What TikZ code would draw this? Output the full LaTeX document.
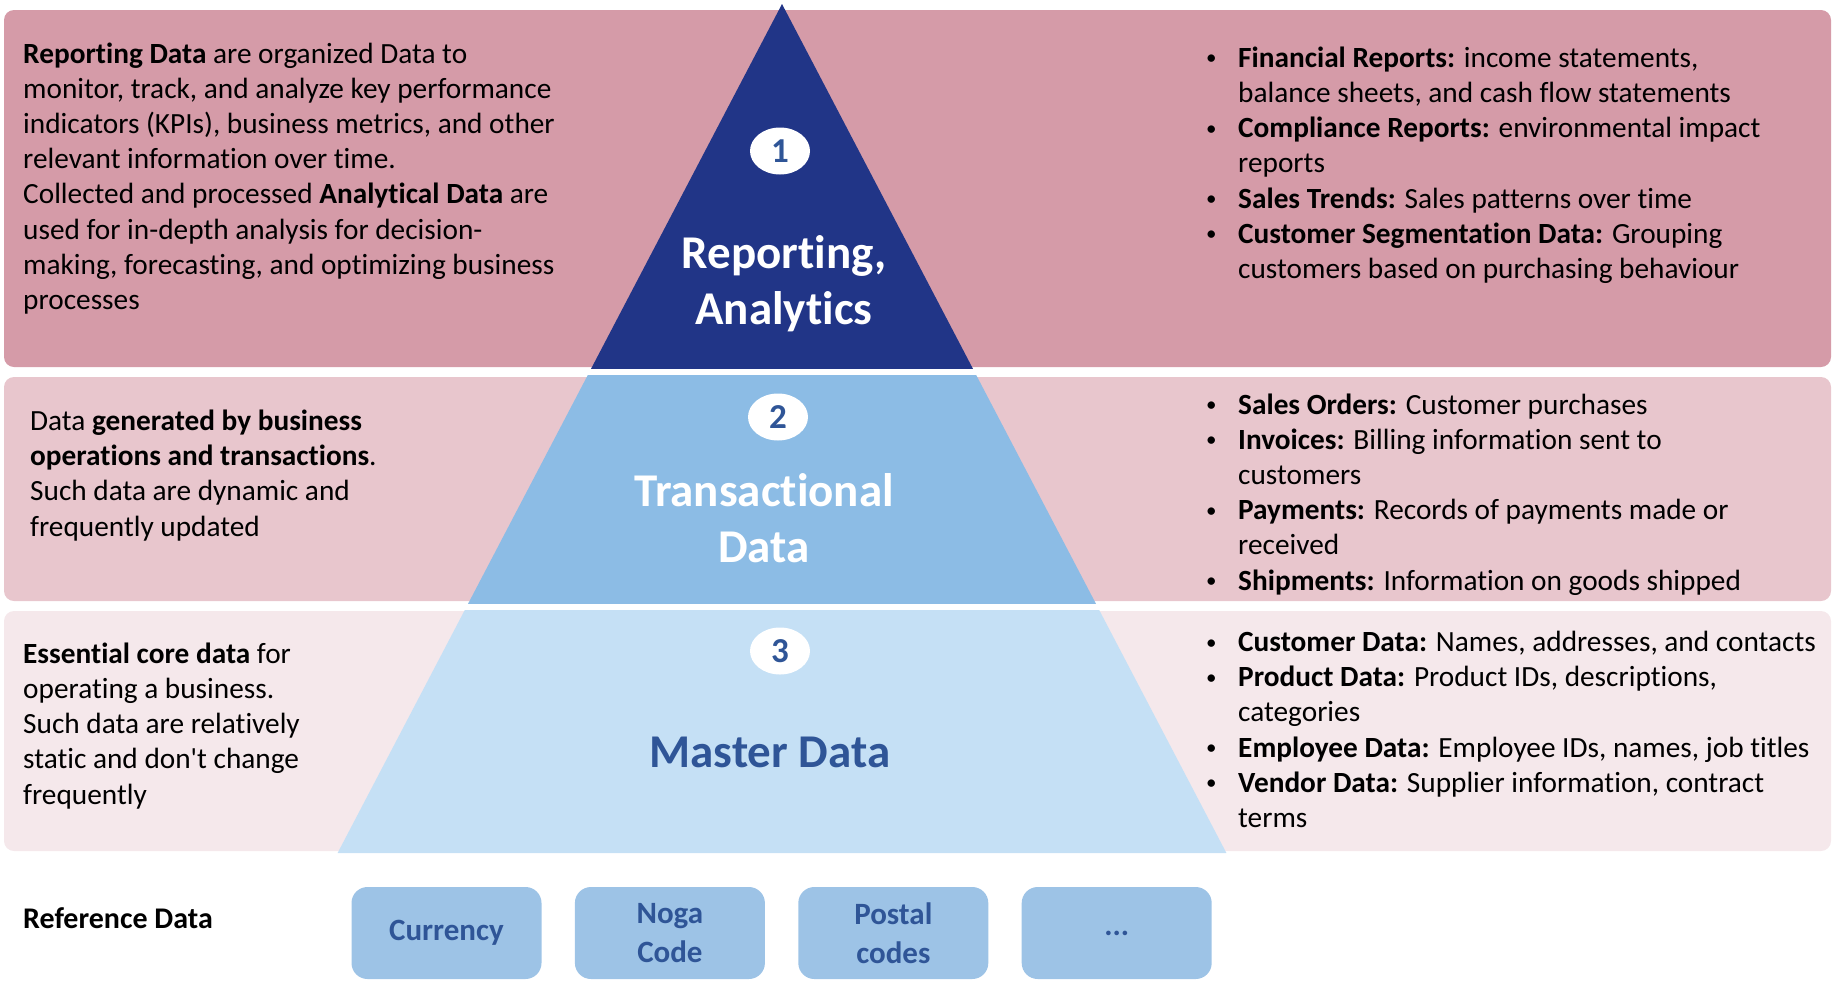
\documentclass[tikz,border=0pt]{standalone}
\usepackage{fontspec}
\setmainfont{Carlito}[Ligatures=NoCommon]
\usetikzlibrary{positioning,shapes.geometric}

\definecolor{bandtop}{HTML}{D59BA8}
\definecolor{bandmid}{HTML}{E8C6CD}
\definecolor{bandlow}{HTML}{F5E8EB}
\definecolor{pyrtop}{HTML}{213587}
\definecolor{pyrmid}{HTML}{8CBCE5}
\definecolor{pyrlow}{HTML}{C5E0F5}
\definecolor{refblue}{HTML}{9DC3E6}
\definecolor{txtblue}{HTML}{2F5597}

\newcommand{\bitem}{\makebox[32pt][l]{\raisebox{2.5pt}{\fontsize{21}{21}\selectfont\textbullet}}}
\newcommand{\bcont}{\hspace*{32pt}}

\tikzset{
    band/.style={rounded corners=10pt},
    bodytext/.style={anchor=base west, align=left, inner sep=0pt,
        font=\fontsize{29.3}{35.2}\selectfont},
    badge/.style={ellipse, fill=white, minimum width=60pt, minimum height=47pt,
        inner sep=0pt, text=txtblue, font=\bfseries\fontsize{35}{40}\selectfont},
    layer/.style={anchor=base, align=center, inner sep=0pt,
        font=\bfseries\fontsize{47}{56}\selectfont},
    refbox/.style={rectangle, rounded corners=16pt, fill=refblue, minimum width=190pt,
        minimum height=92pt, inner sep=0pt, align=center, text=txtblue,
        font=\bfseries\fontsize{31}{39}\selectfont}
}

\begin{document}
\begin{tikzpicture}[x=1pt, y=-1pt]
    \useasboundingbox (0,0) rectangle (1833,980);

    % bands
    \fill[bandtop, band] (4,10) rectangle (1831,367);
    \fill[bandmid, band] (4,377) rectangle (1831,601);
    \fill[bandlow, band] (4,611) rectangle (1831,851);

    % pyramid
    \coordinate (apex) at (782,4);
    \coordinate (bl) at (337.6,853);
    \coordinate (br) at (1226.4,853);
    \foreach \ya/\yb/\col in {0/368/pyrtop, 375/603/pyrmid, 610/853/pyrlow} {
        \begin{scope}
            \clip (0,\ya) rectangle (1833,\yb);
            \fill[\col] (apex) -- (bl) -- (br) -- cycle;
        \end{scope}
    }

    \node[badge] (one) at (780,151) {1};
    \node[badge] (two) at (778,417) {2};
    \node[badge] (three) at (780,651) {3};

    % base anchor = baseline of the last line
    \node[layer, text=white] (rep) at (784,324) {Reporting,\\Analytics};
    \node[layer, text=white] (trans) at (764,562) {Transactional\\Data};
    \node[layer, text=txtblue] (master) at (770,767) {Master Data};

    % left texts
    \node[bodytext] (reptxt) at (23,309.5) {\textbf{Reporting Data} are organized Data to\\
        monitor, track, and analyze key performance\\
        indicators (KPIs), business metrics, and other\\
        relevant information over time.\\
        Collected and processed \textbf{Analytical Data} are\\
        used for in-depth analysis for decision-\\
        making, forecasting, and optimizing business\\
        processes};
    \node[bodytext] (transtxt) at (30,536) {Data \textbf{generated by business}\\
        \textbf{operations and transactions}.\\
        Such data are dynamic and\\
        frequently updated};
    \node[bodytext] (mastertxt) at (23,804) {\textbf{Essential core data} for\\
        operating a business.\\
        Such data are relatively\\
        static and don\textquotesingle t change\\
        frequently};

    % right lists
    \node[bodytext] (replist) at (1206,278.5) {\bitem\textbf{Financial Reports:} income statements,\\
        \bcont balance sheets, and cash flow statements\\
        \bitem\textbf{Compliance Reports:} environmental impact\\
        \bcont reports\\
        \bitem\textbf{Sales Trends:} Sales patterns over time\\
        \bitem\textbf{Customer Segmentation Data:} Grouping\\
        \bcont customers based on purchasing behaviour};
    \node[bodytext] (translist) at (1206,590) {\bitem\textbf{Sales Orders:} Customer purchases\\
        \bitem\textbf{Invoices:} Billing information sent to\\
        \bcont customers\\
        \bitem\textbf{Payments:} Records of payments made or\\
        \bcont received\\
        \bitem\textbf{Shipments:} Information on goods shipped};
    \node[bodytext] (masterlist) at (1206,827.5) {\bitem\textbf{Customer Data:} Names, addresses, and contacts\\
        \bitem\textbf{Product Data:} Product IDs, descriptions,\\
        \bcont categories\\
        \bitem\textbf{Employee Data:} Employee IDs, names, job titles\\
        \bitem\textbf{Vendor Data:} Supplier information, contract\\
        \bcont terms};

    % reference data
    \node[bodytext, font=\bfseries\fontsize{30}{36}\selectfont] (reflabel) at (23,928) {Reference Data};
    \node[refbox] (cur) at (446.5,933) {Currency};
    \node[refbox, right=33pt of cur] (noga) {Noga\\Code};
    \node[refbox, right=33pt of noga] (postal) {Postal\\codes};
    \node[refbox, right=33pt of postal] (more) {...};
\end{tikzpicture}
\end{document}
